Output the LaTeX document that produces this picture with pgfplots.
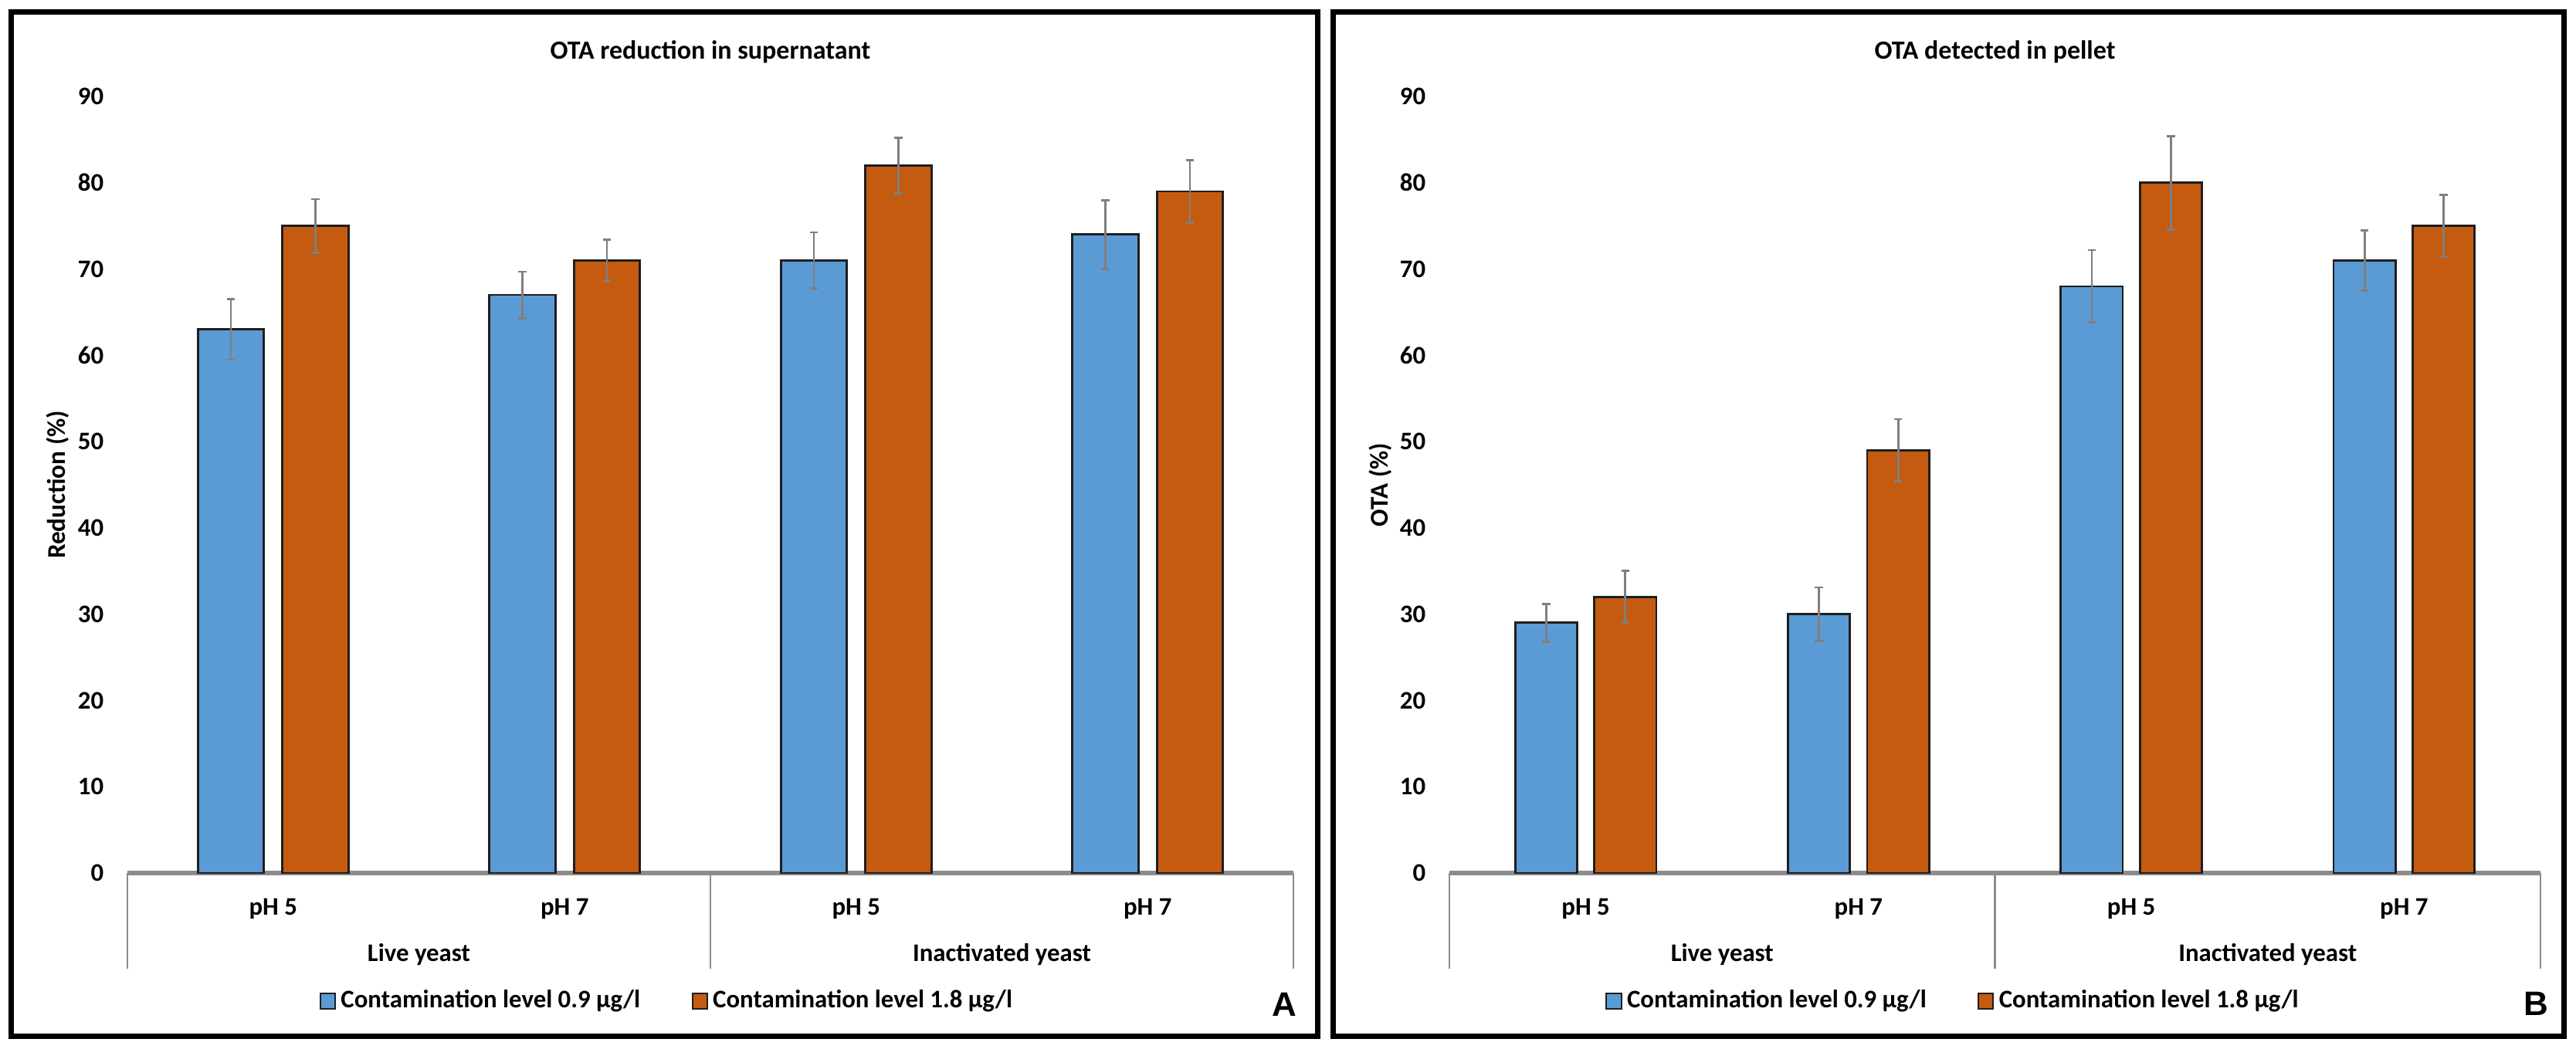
\documentclass[border=0pt]{standalone}
\usepackage{fontspec}
\setmainfont{Carlito}
\newfontfamily\arialfont{Liberation Sans}
\usepackage{pgfplots}
\pgfplotsset{compat=1.18}
\definecolor{barblue}{HTML}{5B9BD5}
\definecolor{barorange}{HTML}{C55A11}
\definecolor{errgray}{HTML}{7F7F7F}
\definecolor{axgray}{HTML}{8C8C8C}
\definecolor{outl}{HTML}{1E1E1E}
\newcommand\fs{\bfseries\fontsize{8.2bp}{9.8bp}\selectfont}
\newcommand\ft{\bfseries\fontsize{8.5bp}{10bp}\selectfont}
\newcommand\fy{\bfseries\fontsize{8.3bp}{10bp}\selectfont}
\pgfplotsset{
  sqlegend/.style={legend image code/.code={\draw[##1, line width=0.5bp] (0bp,-2.4bp) rectangle (4.8bp,2.4bp);}},
  panel/.style={
    scale only axis, height=251.5bp,
    xmin=-0.5, xmax=3.5, ymin=0, ymax=90,
    xtick={0,1,2,3}, xticklabels={pH 5,pH 7,pH 5,pH 7},
    ytick={0,10,...,90},
    axis x line=bottom, axis y line=left,
    axis line style={-},
    x axis line style={draw=axgray, line width=1.3bp},
    y axis line style={draw=none},
    major tick length=0pt, tick style={draw=none},
    /pgf/number format/assume math mode=true,
    tick label style={font=\fs},
    yticklabel style={anchor=east, inner sep=0pt, xshift=-7.5bp},
    xticklabel style={anchor=center, inner sep=0pt, yshift=-11.5bp},
    every axis title shift=0pt,
    title style={font=\ft, at={(axis description cs:0.5,1)}, anchor=center, yshift=14.5bp},
    clip=false,
    legend columns=2,
    legend cell align=left,
    legend style={draw=none, fill=none, font=\fs, anchor=center, inner sep=0pt,
      nodes={inner sep=1.6bp},
      /tikz/every even column/.append style={column sep=15bp}},
  },
  errstyle/.style={error bars/.cd, y dir=both, y explicit,
    error bar style={errgray, line width=0.7bp},
    error mark=-,
    error mark options={errgray, line width=0.7bp, mark size=1.3bp, rotate=90}},
  bluebar/.style={ybar, bar width=0.227, bar shift=0pt, fill=barblue, draw=outl, line width=0.7bp, sqlegend, errstyle},
  orangebar/.style={ybar, bar width=0.227, bar shift=0pt, fill=barorange, draw=outl, line width=0.7bp, sqlegend, errstyle},
}
\begin{document}
\begin{tikzpicture}
\useasboundingbox (0,0) rectangle (834bp,339.75bp);
\fill[white] (0,0) rectangle (834bp,339.75bp);
% frames
\draw[black, line width=1.75bp] (3.5bp,4bp) rectangle (426.5bp,335.75bp);
\draw[black, line width=1.75bp] (431.5bp,4bp) rectangle (830bp,335.75bp);

% Panel A
\begin{axis}[panel, width=377.5bp, at={(41.25bp,57bp)}, anchor=south west,
  title={OTA reduction in supernatant},
  ylabel={Reduction (\%)},
  ylabel style={font=\fy, at={(axis description cs:-0.0596,0.5)}, anchor=center},
  legend style={at={(axis description cs:0.464,-0.165)}}]
\addplot[bluebar] coordinates {(-0.145,63) +- (0,3.5) (0.855,67) +- (0,2.7) (1.855,71) +- (0,3.25) (2.855,74) +- (0,4)};
\addlegendentry{Contamination level 0.9 µg/l}
\addplot[orangebar] coordinates {(0.145,75) +- (0,3.1) (1.145,71) +- (0,2.4) (2.145,82) +- (0,3.2) (3.145,79) +- (0,3.6)};
\addlegendentry{Contamination level 1.8 µg/l}
\draw[axgray, line width=0.7bp] (axis cs:-0.5,0) -- ([yshift=-31bp]axis cs:-0.5,0);
\draw[axgray, line width=0.7bp] (axis cs:1.5,0) -- ([yshift=-31bp]axis cs:1.5,0);
\draw[axgray, line width=0.7bp] (axis cs:3.5,0) -- ([yshift=-31bp]axis cs:3.5,0);
\node[font=\fs] at ([yshift=-26.5bp]axis cs:0.5,0) {Live yeast};
\node[font=\fs] at ([yshift=-26.5bp]axis cs:2.5,0) {Inactivated yeast};
\end{axis}

% Panel B
\begin{axis}[panel, width=353.25bp, at={(469.25bp,57bp)}, anchor=south west,
  title={OTA detected in pellet},
  ylabel={OTA (\%)},
  ylabel style={font=\fy, at={(axis description cs:-0.063,0.5)}, anchor=center},
  legend style={at={(axis description cs:0.463,-0.165)}}]
\addplot[bluebar] coordinates {(-0.145,29) +- (0,2.2) (0.855,30) +- (0,3.1) (1.855,68) +- (0,4.2) (2.855,71) +- (0,3.5)};
\addlegendentry{Contamination level 0.9 µg/l}
\addplot[orangebar] coordinates {(0.145,32) +- (0,3) (1.145,49) +- (0,3.6) (2.145,80) +- (0,5.4) (3.145,75) +- (0,3.6)};
\addlegendentry{Contamination level 1.8 µg/l}
\draw[axgray, line width=0.7bp] (axis cs:-0.5,0) -- ([yshift=-31bp]axis cs:-0.5,0);
\draw[axgray, line width=0.7bp] (axis cs:1.5,0) -- ([yshift=-31bp]axis cs:1.5,0);
\draw[axgray, line width=0.7bp] (axis cs:3.5,0) -- ([yshift=-31bp]axis cs:3.5,0);
\node[font=\fs] at ([yshift=-26.5bp]axis cs:0.5,0) {Live yeast};
\node[font=\fs] at ([yshift=-26.5bp]axis cs:2.5,0) {Inactivated yeast};
\end{axis}

\node[font=\arialfont\bfseries\fontsize{11bp}{13bp}\selectfont] at (415.75bp,14.5bp) {A};
\node[font=\arialfont\bfseries\fontsize{11bp}{13bp}\selectfont] at (821bp,14.75bp) {B};
\end{tikzpicture}
\end{document}
